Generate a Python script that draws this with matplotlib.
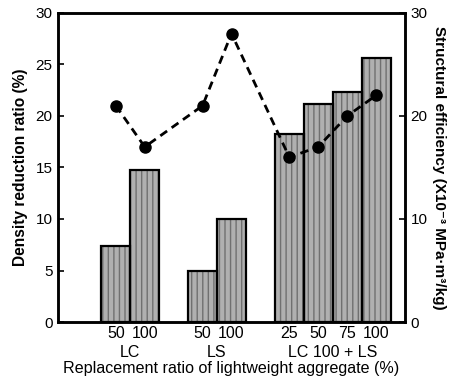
import matplotlib
matplotlib.use("Agg")
import matplotlib.pyplot as plt
import numpy as np

plt.rcParams['font.family'] = ['Liberation Sans', 'DejaVu Sans']

group_names = ['LC', 'LS', 'LC 100 + LS']
group_sizes = [2, 2, 4]
tick_labels = ['50', '100', '50', '100', '25', '50', '75', '100']
density_reduction = [7.4, 14.8, 5.0, 10.0, 18.3, 21.2, 22.3, 25.6]
structural_eff = [21, 17, 21, 28, 16, 17, 20, 22]

# positions: groups separated by one empty slot
positions = []
group_centers = []
start = 2
for n in group_sizes:
    p = list(range(start, start + n))
    positions += p
    group_centers.append(np.mean(p))
    start += n + 1

fig = plt.figure(figsize=(4.51, 3.85), dpi=100)
ax = fig.add_axes([58/451, 1-322/385, (405-58)/451, (322-13)/385])

ax.bar(positions, density_reduction, width=1.0, color='#b0b0b0', edgecolor='#707070',
       hatch='|||', linewidth=0, zorder=2)
ax.bar(positions, density_reduction, width=1.0, fill=False, edgecolor='black',
       linewidth=1.6, zorder=3)

ax.set_xlim(0, 12)
ax.set_ylim(0, 30)
ax.set_yticks([0, 5, 10, 15, 20, 25, 30])
ax.tick_params(axis='y', direction='in', length=4, width=1.2, labelsize=11, pad=4)
ax.set_xticks(positions)
ax.set_xticklabels(tick_labels, fontsize=11.5)
ax.tick_params(axis='x', length=0, pad=3)
for s in ax.spines.values():
    s.set_linewidth(1.8)
ax.set_ylabel('Density reduction ratio (%)', fontsize=11.2, fontweight='bold', labelpad=5)

for c, g in zip(group_centers, group_names):
    ax.text(c, -0.098, g, transform=ax.get_xaxis_transform(), ha='center', va='center', fontsize=11.5)
ax.text(0.5, -0.152, 'Replacement ratio of lightweight aggregate (%)', transform=ax.transAxes,
        ha='center', va='center', fontsize=11.6)

ax2 = ax.twinx()
ax2.plot(positions, structural_eff, color='black', linestyle=(0, (3, 2)), linewidth=2,
         marker='o', markersize=8, zorder=5)
ax2.set_ylim(0, 30)
ax2.set_yticks([0, 10, 20, 30])
ax2.tick_params(axis='y', direction='in', length=4, width=1.2, labelsize=11, pad=4)
for s in ax2.spines.values():
    s.set_linewidth(1.8)
ax2.set_ylabel('Structural efficiency (X10\u207b\u00b3 MPa\u00b7m\u00b3/kg)', fontsize=11,
               fontweight='bold', rotation=-90, labelpad=13)

fig.savefig('out.png', dpi=100)
